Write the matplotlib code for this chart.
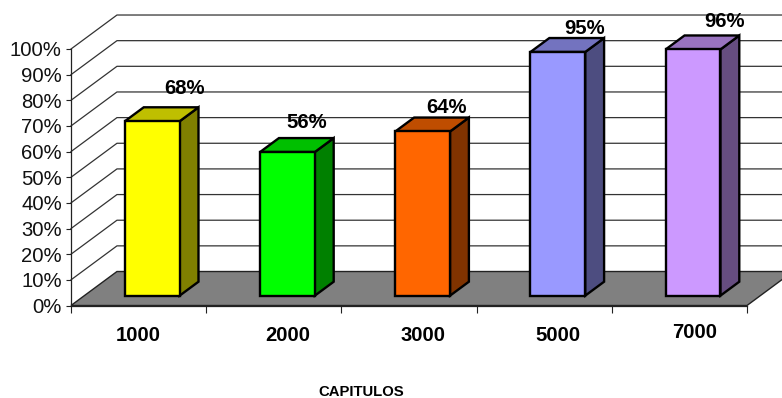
import matplotlib
matplotlib.use('Agg')
import matplotlib.pyplot as plt
from matplotlib.patches import Polygon
from matplotlib.ticker import PercentFormatter

plt.rcParams['font.family'] = ['Liberation Sans', 'DejaVu Sans']

capitulos = ['1000', '2000', '3000', '5000', '7000']
valores = [68, 56, 64, 95, 96]
ticks_pct = [0, 10, 20, 30, 40, 50, 60, 70, 80, 90, 100]
front_colors = ['#FFFF00', '#00FF00', '#FF6600', '#9999FF', '#CC99FF']
top_colors = ['#BFBF00', '#00BF00', '#BF4D00', '#7373BF', '#9973BF']
side_colors = ['#808000', '#008000', '#803300', '#4D4D80', '#664D80']

# hand placed label positions, in category units / percent
label_x = [0.495, 1.60, 2.60, 3.60, 4.61]
label_y = [-11.7, -11.7, -11.7, -11.7, -10.7]
value_x = [0.84, 1.74, 2.775, 3.80, 4.835]
value_y = [84.5, 71.3, 77.2, 108.0, 110.9]

W, H = 782, 398
fig = plt.figure(figsize=(W / 100, H / 100), dpi=100)
ax = fig.add_axes([71 / W, 1 - 305.5 / H, 676 / W, 256.5 / H])
ax.set_xlim(0, 5)
ax.set_ylim(0, 100)
ax.patch.set_visible(False)

# oblique offset of the back wall, in data units
DX, DY = 0.34, 13.25
# bar placement along the depth and the category
BAR_DEPTH0, BAR_DEPTH1 = 0.29, 0.70
GAP, BAR_W = 0.30, 0.405
GRID = '#333333'


def poly(pts, fc, lw, z):
    ax.add_patch(Polygon(pts, closed=True, fc=fc, ec='black', lw=lw, zorder=z,
                         clip_on=False, joinstyle='miter'))


# floor
ax.add_patch(Polygon([(0, 0), (5, 0), (5 + DX, DY), (DX, DY)], closed=True, fc='#808080',
                     ec='#222222', lw=1, zorder=1, clip_on=False))

# grid on the back and left walls
for t in ticks_pct[1:]:
    ax.plot([0, DX, 5 + DX], [t, t + DY, t + DY], color=GRID, lw=0.9, zorder=1,
            clip_on=False)

for i, v in enumerate(valores):
    x0 = i + GAP + BAR_DEPTH0 * DX
    x1 = x0 + BAR_W
    y0 = BAR_DEPTH0 * DY
    ddx = (BAR_DEPTH1 - BAR_DEPTH0) * DX
    ddy = (BAR_DEPTH1 - BAR_DEPTH0) * DY
    top = y0 + v
    poly([(x1, y0), (x1 + ddx, y0 + ddy), (x1 + ddx, top + ddy), (x1, top)],
         side_colors[i], 1.7, 3)
    poly([(x0, top), (x1, top), (x1 + ddx, top + ddy), (x0 + ddx, top + ddy)],
         top_colors[i], 1.7, 3)
    poly([(x0, y0), (x1, y0), (x1, top), (x0, top)], front_colors[i], 1.7, 4)
    ax.text(value_x[i], value_y[i], f'{v}%', fontsize=14.6, fontweight='bold',
            ha='center', va='center', color='black', zorder=5, clip_on=False)
    ax.text(label_x[i], label_y[i], capitulos[i], fontsize=14.6, fontweight='bold',
            ha='center', va='center', color='black', clip_on=False)

ax.set_yticks(ticks_pct)
ax.yaxis.set_major_formatter(PercentFormatter(decimals=0))
ax.tick_params(axis='y', labelsize=14.6, length=3.6, width=0.8, pad=3, color='#222222',
               labelcolor='#111111')
ax.set_xticks(range(6))
ax.set_xticklabels([])
ax.tick_params(axis='x', length=5, width=0.8, color='#222222')

for s in ['top', 'right']:
    ax.spines[s].set_visible(False)
for s in ['left', 'bottom']:
    ax.spines[s].set_color('#222222')
    ax.spines[s].set_linewidth(0.9)

fig.text(361 / W, 1 - 392 / H, 'CAPITULOS', fontsize=10.7, fontweight='bold',
         ha='center', va='center', color='black')

fig.savefig('out.png', dpi=100)
